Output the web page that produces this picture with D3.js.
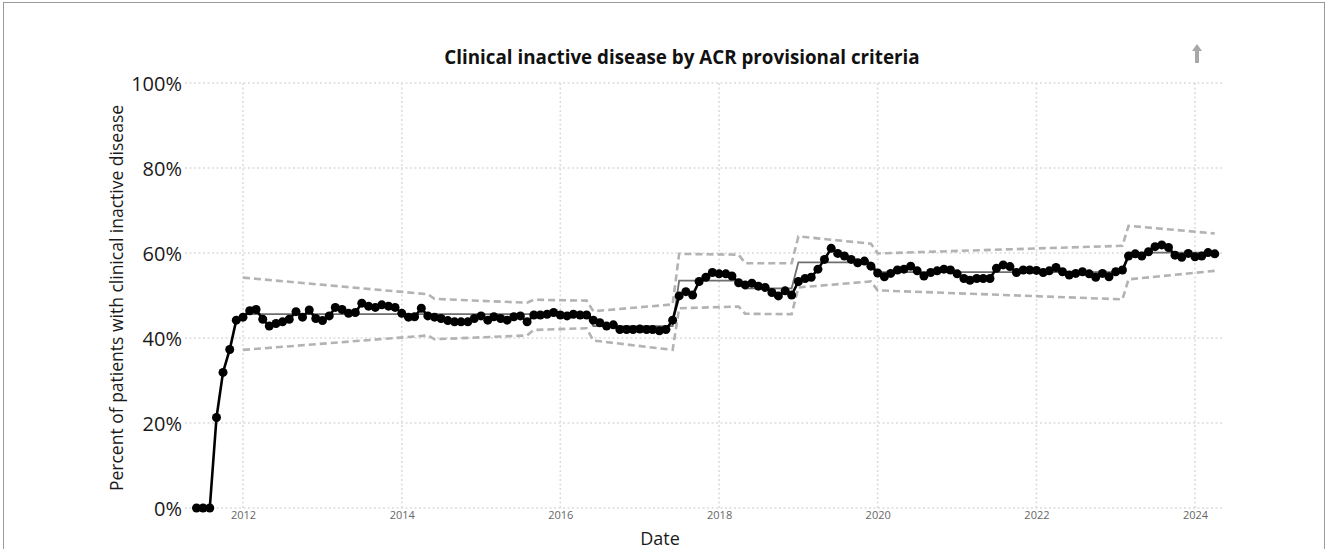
<!DOCTYPE html>
<html><head><meta charset="utf-8">
<script src="https://cdn.jsdelivr.net/npm/d3@7"></script>
<style>body{margin:0;background:#fff}svg{display:block}</style>
</head><body>
<svg id="c" width="1327" height="549"></svg>
<script>
// ---- data ----
const firstMonth = "2011-06";
const pctValues = [
  0, 0, 0, 21.3, 31.9, 37.3, 44.2,                                   // 2011 Jun-Dec
  44.9, 46.4, 46.7, 44.4, 42.8, 43.4, 43.8, 44.4, 46.2, 44.9, 46.6, 44.6, // 2012
  44.1, 45.2, 47.2, 46.7, 45.8, 46.0, 48.2, 47.5, 47.2, 47.8, 47.5, 47.2, // 2013
  45.8, 44.9, 45.0, 47.0, 45.2, 44.9, 44.6, 44.1, 43.8, 43.8, 43.8, 44.6, // 2014
  45.2, 44.2, 45.0, 44.6, 44.2, 45.0, 45.2, 43.8, 45.4, 45.4, 45.6, 46.0, // 2015
  45.4, 45.2, 45.6, 45.4, 45.4, 44.2, 43.6, 42.8, 43.1, 42.0, 42.0, 42.0, // 2016
  42.1, 42.0, 42.0, 41.7, 42.0, 44.2, 49.9, 50.9, 50.1, 53.3, 54.3, 55.4, // 2017
  55.1, 55.1, 54.6, 53.0, 52.5, 52.9, 52.2, 51.9, 50.7, 49.9, 51.1, 50.1, // 2018
  53.3, 54.0, 54.3, 56.2, 58.5, 61.1, 59.9, 59.3, 58.5, 57.7, 58.1, 56.9, // 2019
  55.3, 54.4, 55.2, 56.0, 56.2, 56.9, 55.8, 54.6, 55.4, 55.8, 56.2, 56.0, // 2020
  55.1, 54.0, 53.6, 54.0, 54.0, 54.0, 56.4, 57.2, 56.8, 55.4, 56.0, 56.0, // 2021
  55.9, 55.4, 55.8, 56.6, 55.6, 54.8, 55.2, 55.6, 55.1, 54.3, 55.2, 54.4, // 2022
  55.6, 56.0, 59.3, 59.8, 59.3, 60.3, 61.5, 61.9, 61.3, 59.5, 59.0, 59.9, // 2023
  59.1, 59.3, 60.1, 59.8                                              // 2024 Jan-Apr
];
const centerPhases = [
  ["2012-01", "2016-05", 45.6],
  ["2016-06", "2017-06", 42.8],
  ["2017-07", "2018-04", 53.5],
  ["2018-05", "2018-12", 51.7],
  ["2019-01", "2019-12", 57.8],
  ["2020-01", "2023-02", 55.5],
  ["2023-03", "2024-04", 60.1]
];
const uclVertices = [
  ["2012-01", 54.2], ["2014-05", 50.3], ["2014-06", 49.2], ["2015-08", 48.3], ["2015-09", 49.0], ["2016-05", 48.8],
  ["2016-06", 46.3], ["2017-06", 47.9],
  ["2017-07", 59.8], ["2018-04", 59.6],
  ["2018-05", 57.6], ["2018-12", 57.6],
  ["2019-01", 63.9], ["2019-12", 62.2],
  ["2020-01", 59.9], ["2023-02", 61.7],
  ["2023-03", 66.4], ["2024-04", 64.6]
];
const lclVertices = [
  ["2012-01", 37.2], ["2014-05", 40.6], ["2014-06", 39.7], ["2015-08", 40.6], ["2015-09", 41.9], ["2016-05", 42.3],
  ["2016-06", 39.4], ["2017-06", 37.2],
  ["2017-07", 47.0], ["2018-04", 47.4],
  ["2018-05", 45.7], ["2018-12", 45.6],
  ["2019-01", 51.9], ["2019-12", 53.3],
  ["2020-01", 51.2], ["2023-02", 49.1],
  ["2023-03", 53.8], ["2024-04", 55.8]
];
const yTicks = [0, 20, 40, 60, 80, 100];
const xTickYears = [2012, 2014, 2016, 2018, 2020, 2022, 2024];
const titleText = "Clinical inactive disease by ACR provisional criteria";
const xLabel = "Date";
const yLabel = "Percent of patients with clinical inactive disease";

// ---- chart ----
const parseM = d3.timeParse("%Y-%m");
const svg = d3.select("#c");
const font = "'Open Sans', 'Noto Sans', sans-serif";

svg.append("rect").attr("x", 3.5).attr("y", 2.5).attr("width", 1321).attr("height", 600)
  .attr("fill", "none").attr("stroke", "#9a9a9a").attr("stroke-width", 1);

const x = d3.scaleTime().domain([new Date(2012, 0, 1), new Date(2024, 0, 1)]).range([243, 1195]);
const y = d3.scaleLinear().domain([0, 100]).range([508, 83]);
const plotL = 185, plotR = 1222;

// gridlines
const grid = svg.append("g").attr("stroke", "#dcdcdc").attr("stroke-width", 1.6).attr("stroke-dasharray", "2,2.5");
grid.selectAll("line.h").data(yTicks).join("line").attr("class", "h")
  .attr("x1", plotL).attr("x2", plotR).attr("y1", d => y(d)).attr("y2", d => y(d));
grid.selectAll("line.v").data(xTickYears).join("line").attr("class", "v")
  .attr("x1", d => x(new Date(d, 0, 1))).attr("x2", d => x(new Date(d, 0, 1)))
  .attr("y1", y(100)).attr("y2", y(0));

// y axis (labels only)
const yAxis = d3.axisLeft(y).tickValues(yTicks).tickFormat(d => d + "%").tickSize(0).tickPadding(0);
const ya = svg.append("g").attr("transform", `translate(182,0)`).call(yAxis);
ya.select(".domain").remove();
ya.selectAll("text").attr("font-family", font).attr("font-size", 20).attr("fill", "#1a1a1a").attr("dy", "0.35em");

// x axis (labels only)
const xAxis = d3.axisBottom(x).tickValues(xTickYears.map(d => new Date(d, 0, 1))).tickFormat(d3.timeFormat("%Y")).tickSize(0).tickPadding(0);
const xa = svg.append("g").attr("transform", `translate(0,511)`).call(xAxis);
xa.select(".domain").remove();
xa.selectAll("text").attr("font-family", font).attr("font-size", 11).attr("fill", "#666").attr("dy", "0.75em");

// limits
const lineV = d3.line().x(d => x(parseM(d[0]))).y(d => y(d[1]));
[uclVertices, lclVertices].forEach(v => {
  svg.append("path").datum(v).attr("d", lineV).attr("fill", "none")
    .attr("stroke", "#b3b3b3").attr("stroke-width", 2.6).attr("stroke-dasharray", "7,4");
});

// center line
const centerPts = centerPhases.flatMap(p => [[p[0], p[2]], [p[1], p[2]]]);
svg.append("path").datum(centerPts).attr("d", lineV).attr("fill", "none")
  .attr("stroke", "#6e6e6e").attr("stroke-width", 1.8);

// data
const start = parseM(firstMonth);
const data = pctValues.map((v, i) => ({ date: d3.timeMonth.offset(start, i), v }));
svg.append("path").datum(data)
  .attr("d", d3.line().x(d => x(d.date)).y(d => y(d.v)))
  .attr("fill", "none").attr("stroke", "#000").attr("stroke-width", 2.6).attr("stroke-linejoin", "round");
svg.append("g").selectAll("circle").data(data).join("circle")
  .attr("cx", d => x(d.date)).attr("cy", d => y(d.v)).attr("r", 4.5).attr("fill", "#000");

// title & labels
svg.append("text").attr("x", 682).attr("y", 64).attr("text-anchor", "middle")
  .attr("font-family", font).attr("font-weight", "bold").attr("font-size", 18.8).attr("fill", "#111").text(titleText);
svg.append("text").attr("x", 660).attr("y", 545).attr("text-anchor", "middle")
  .attr("font-family", font).attr("font-size", 18).attr("fill", "#1a1a1a").text(xLabel);
svg.append("text").attr("transform", "translate(123,298) rotate(-90)").attr("text-anchor", "middle")
  .attr("font-family", font).attr("font-size", 17.5).attr("fill", "#1a1a1a").text(yLabel);

// export icon (arrow)
svg.append("path").attr("d", "M1197,44 L1202,51 L1199,51 L1199,63 L1195,63 L1195,51 L1192,51 Z").attr("fill", "#a8a8a8");
</script>
</body></html>
